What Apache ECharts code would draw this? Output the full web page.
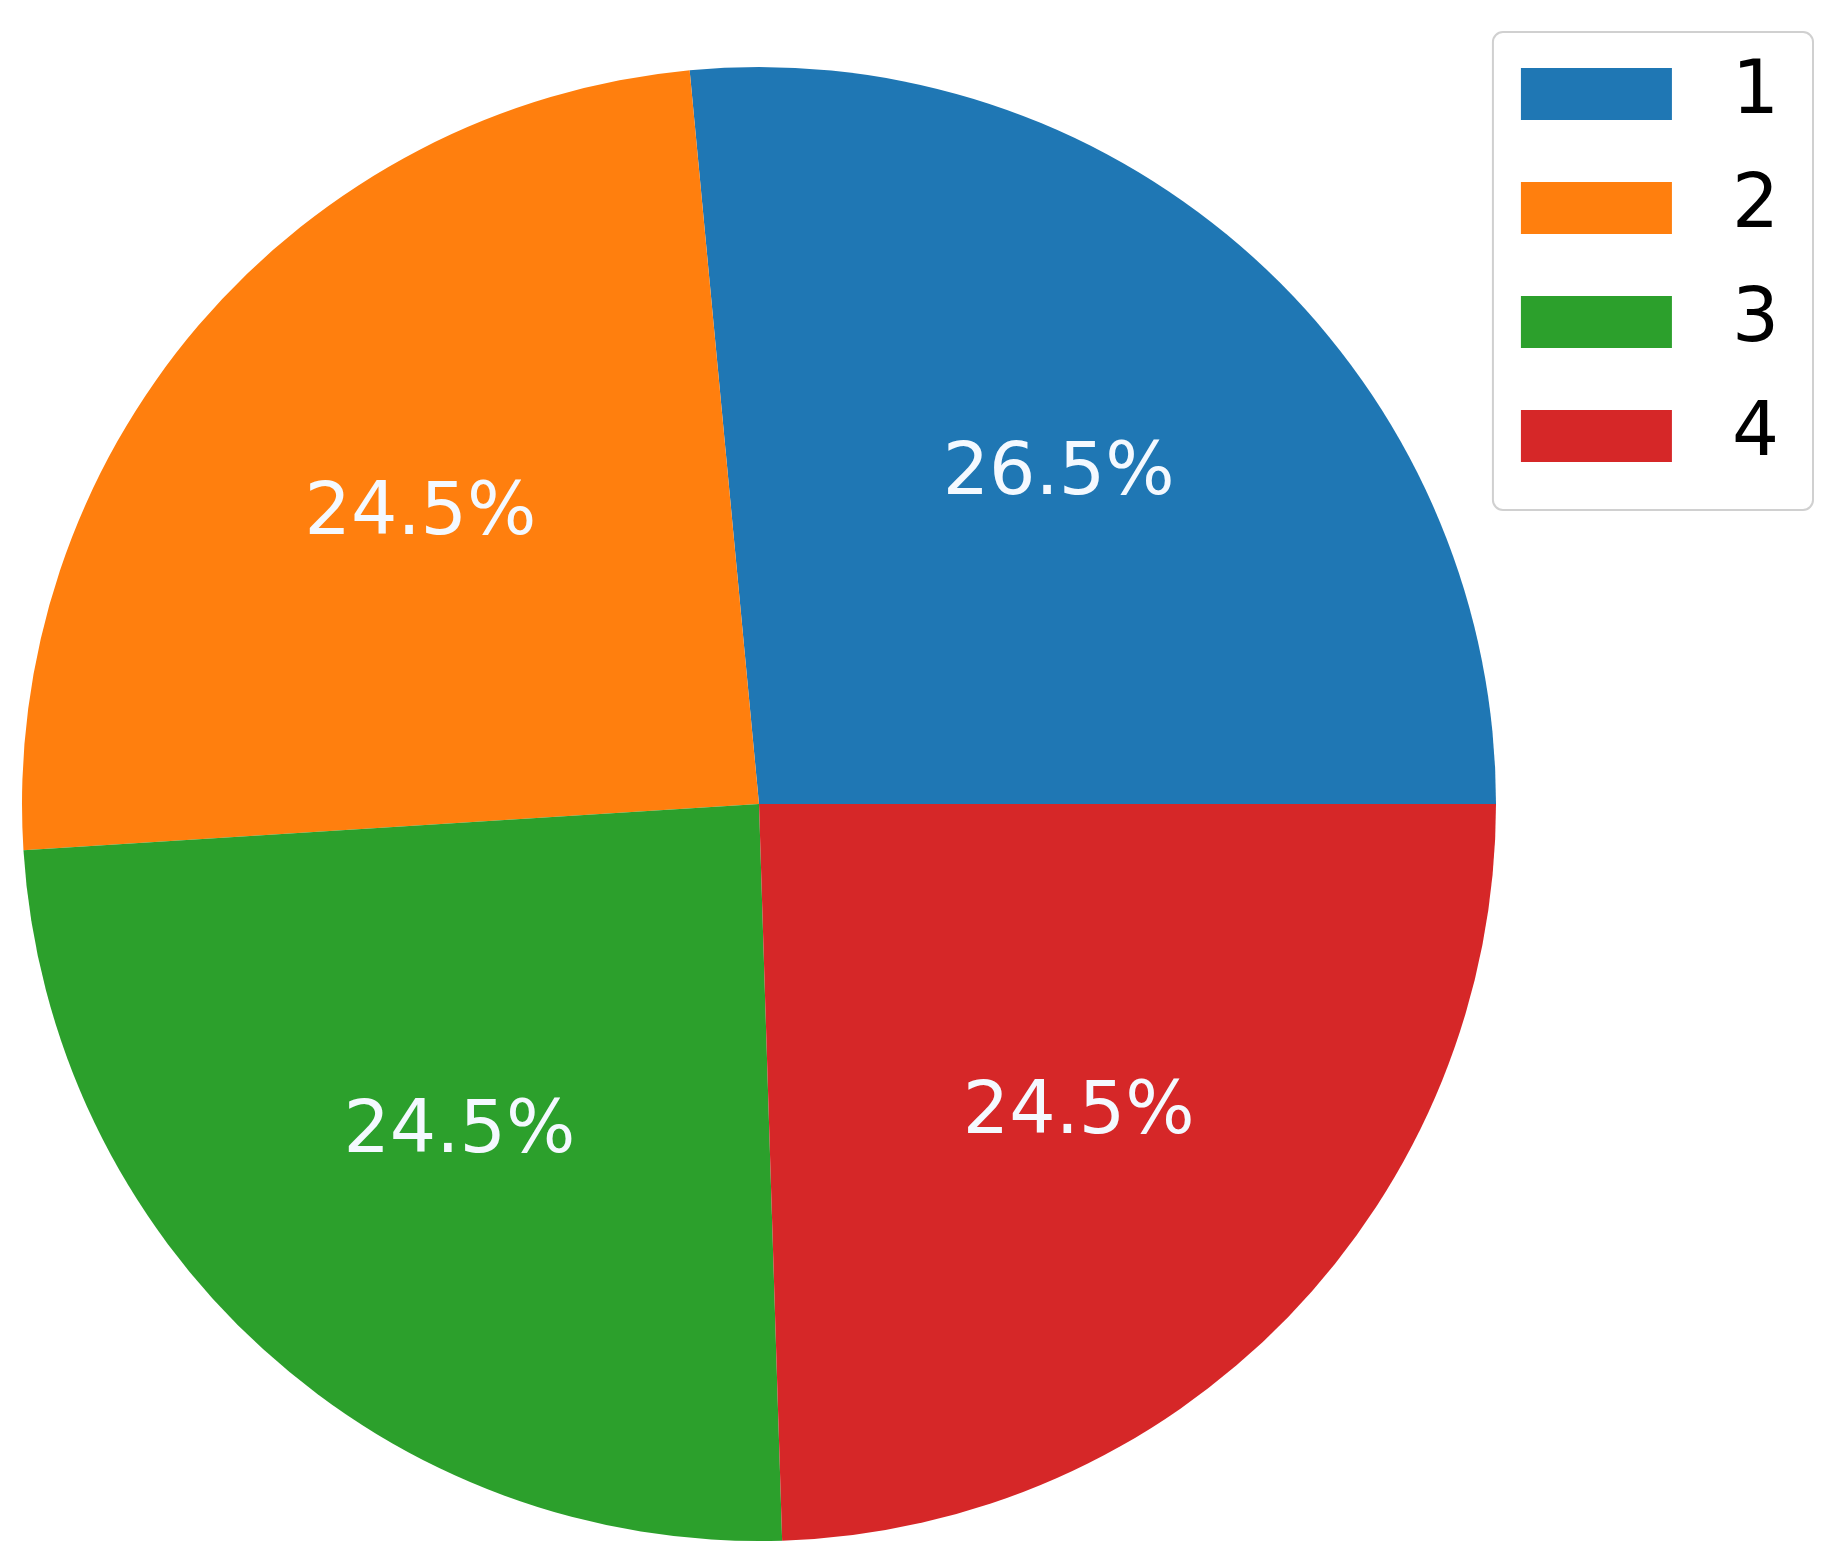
<!DOCTYPE html>
<html>
<head>
<meta charset="utf-8">
<script src="https://cdn.jsdelivr.net/npm/echarts@6/dist/echarts.min.js"></script>
<style>
  html, body { margin: 0; padding: 0; background: #fff; }
  #chart { width: 1844px; height: 1568px; }
</style>
</head>
<body>
<div id="chart"></div>
<script>
const categories = ['1', '2', '3', '4']
const shares = [26.5, 24.5, 24.5, 24.5]
const colors = ['#1f77b4', '#ff7f0e', '#2ca02c', '#d62728']

const center = [759, 804]
const radius = 737

const chart = echarts.init(document.getElementById('chart'))

const pieData = categories.map((name, i) => ({
  name,
  value: shares[i],
  itemStyle: { color: colors[i] }
}))

chart.setOption({
  animation: false,
  textStyle: { fontFamily: 'DejaVu Sans' },
  legend: {
    data: categories,
    orient: 'vertical',
    right: 31,
    top: 32,
    padding: [25, 34, 37, 28],
    itemWidth: 151,
    itemHeight: 52,
    itemGap: 40,
    icon: 'rect',
    borderColor: '#d0d0d0',
    borderWidth: 2,
    borderRadius: 10,
    backgroundColor: '#fff',
    textStyle: {
      fontFamily: 'DejaVu Sans',
      fontSize: 74,
      lineHeight: 52,
      color: '#000',
      padding: [0, 0, 0, 55]
    }
  },
  series: [
    {
      // the wedges
      type: 'pie',
      center,
      radius,
      startAngle: 0,
      clockwise: false,
      silent: true,
      label: { show: false },
      labelLine: { show: false },
      itemStyle: { borderWidth: 0 },
      data: pieData
    },
    {
      // invisible ring, used only to put labels at 0.6 of the radius
      type: 'pie',
      center,
      radius: radius * 1.2,
      startAngle: 0,
      clockwise: false,
      silent: true,
      itemStyle: { color: 'rgba(0,0,0,0)', borderWidth: 0 },
      label: {
        show: true,
        position: 'inside',
        fontFamily: 'DejaVu Sans',
        fontSize: 73,
        color: '#f4f9ff',
        formatter: p => p.value.toFixed(1) + '%'
      },
      labelLine: { show: false },
      data: categories.map((name, i) => ({ name, value: shares[i] }))
    }
  ]
})
</script>
</body>
</html>
